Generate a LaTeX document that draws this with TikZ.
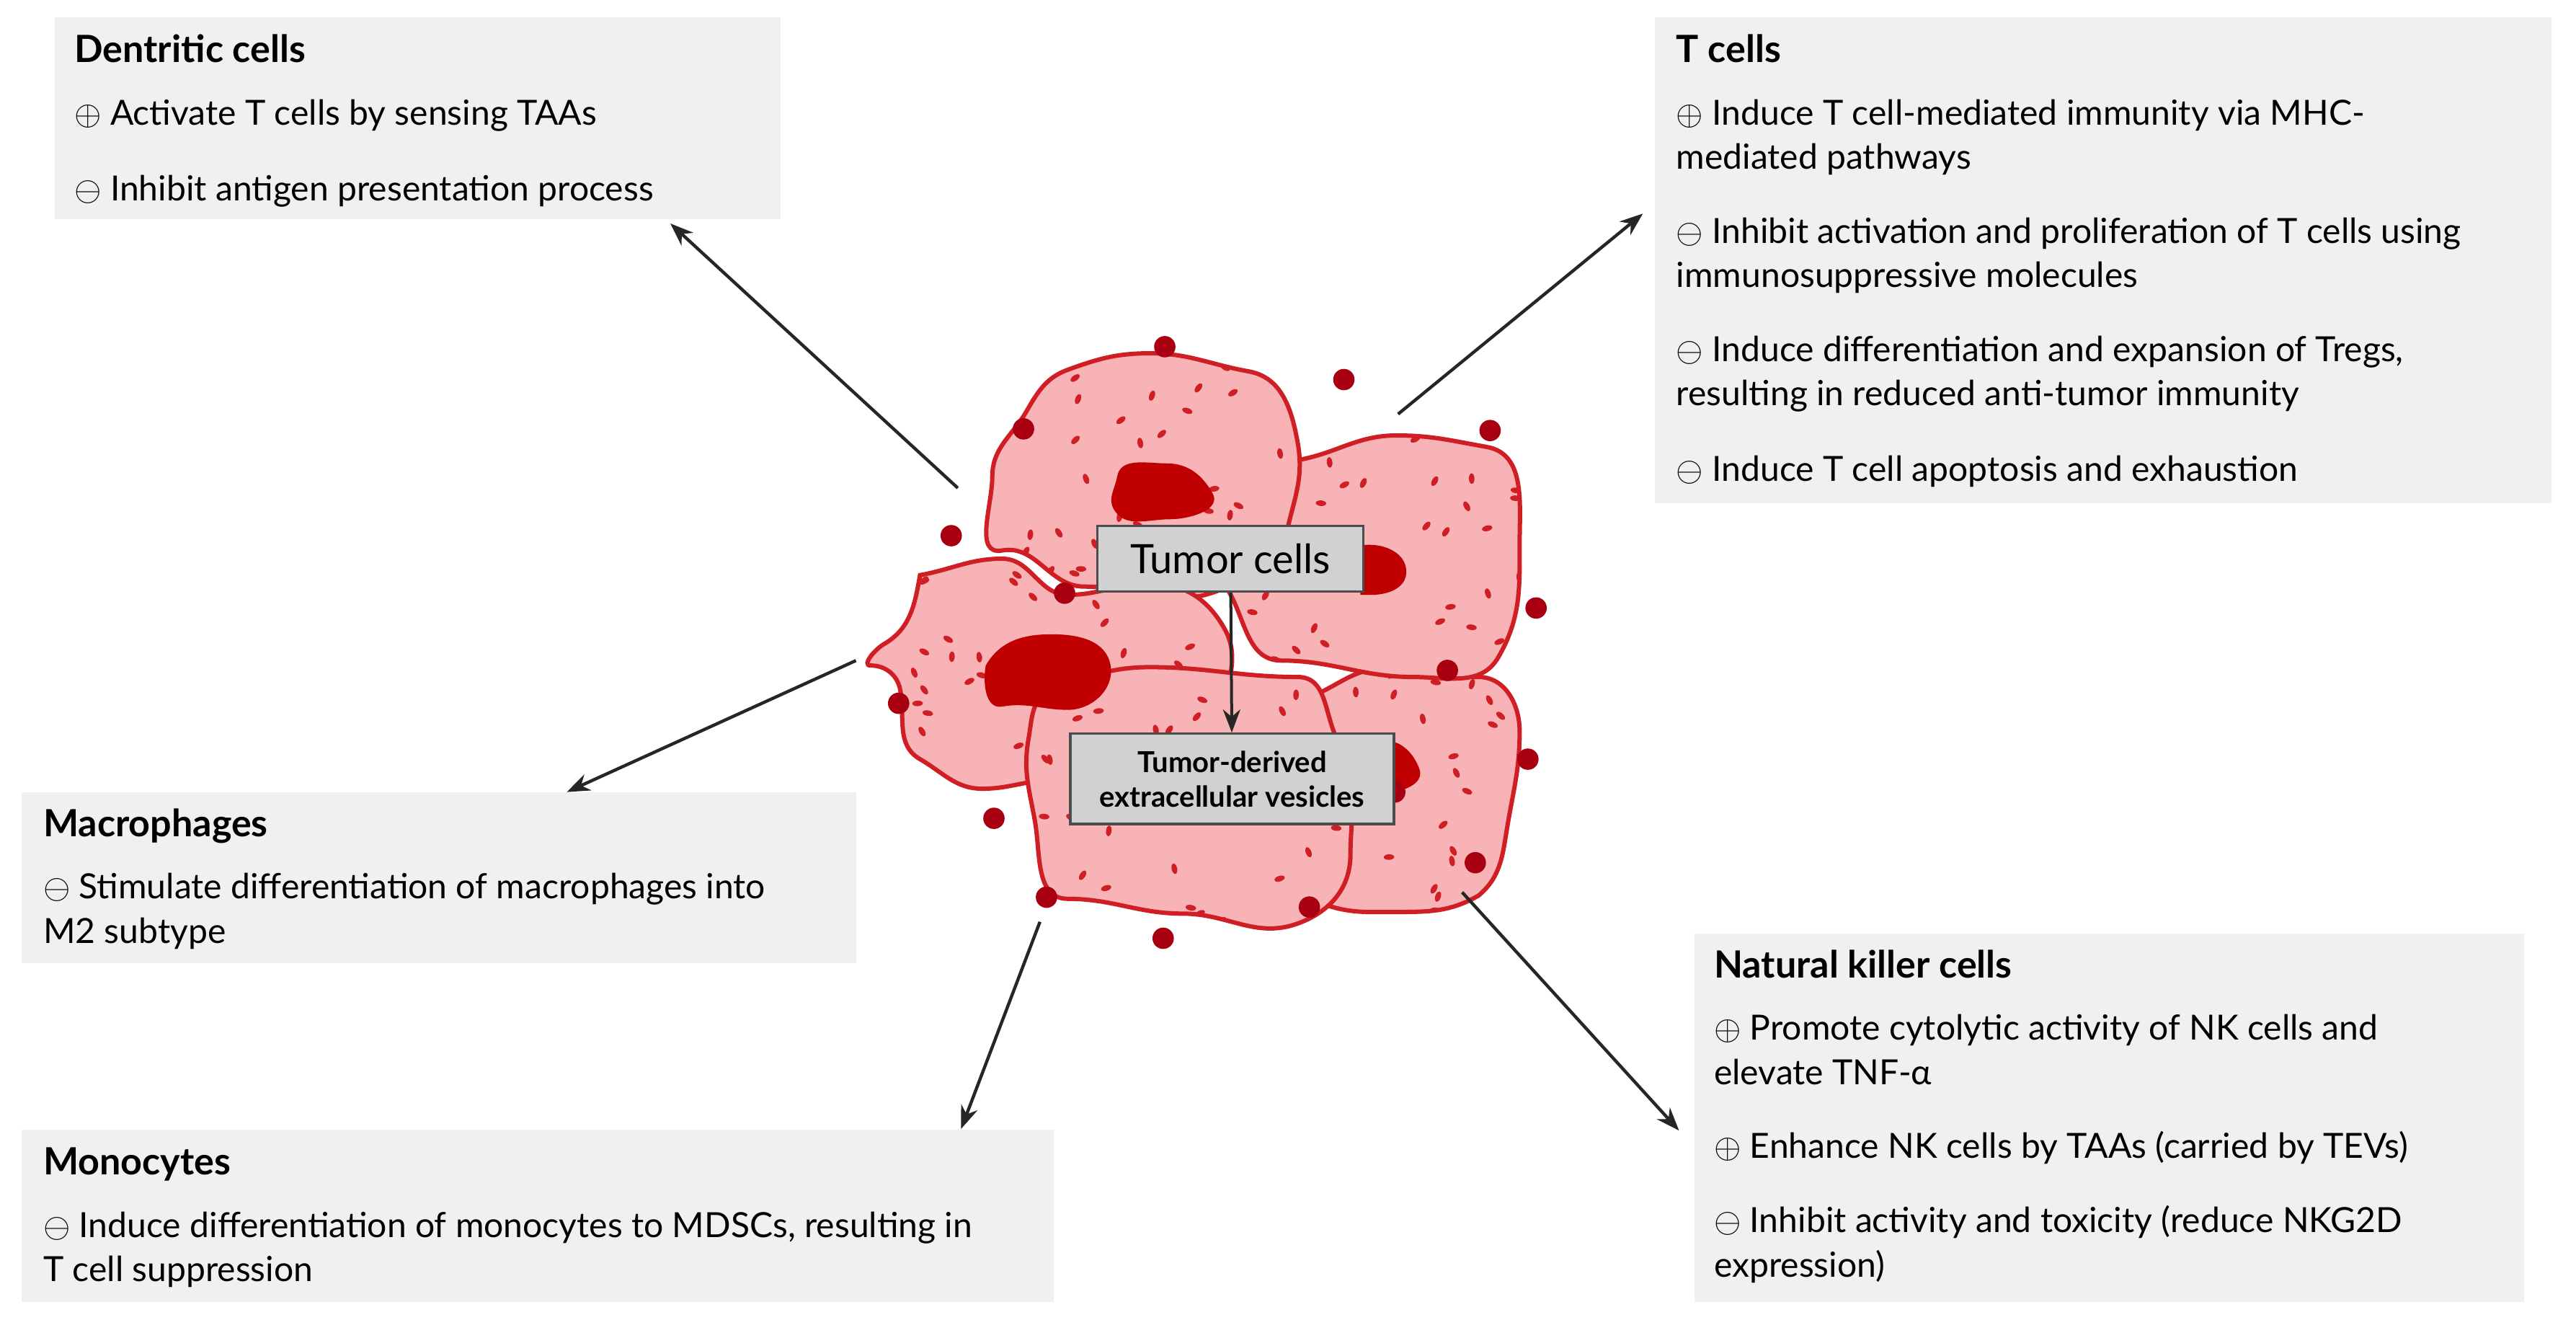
\documentclass[tikz,border=0pt]{standalone}
\usepackage{fontspec}
\setmainfont{Lato}
\usetikzlibrary{arrows.meta}
\definecolor{boxg}{HTML}{F0F0F0}
\definecolor{cellf}{HTML}{F7B3B5}
\definecolor{celld}{HTML}{D01E25}
\definecolor{nuc}{HTML}{C00000}
\definecolor{dotc}{HTML}{A80010}
\begin{document}
\begin{tikzpicture}[x=0.02cm,y=-0.02cm,
  box/.style={fill=boxg,draw=none,anchor=north west,inner sep=0},
  ttl/.style={anchor=base west,font=\fontsize{13}{15}\selectfont\bfseries,inner sep=0},
  txt/.style={anchor=base west,align=left,font=\fontsize{12}{15.35}\selectfont,inner sep=0},
  arr/.style={-{Stealth[length=8pt,width=6pt]},line width=1.1pt,draw=black!85},
  cell/.style={fill=cellf,draw=celld,line width=1.5pt},
  lab/.style={fill=black!18,draw=black!70,line width=0.8pt,inner sep=0,align=center}]
\useasboundingbox (0,0) rectangle (1568,803);
% boxes
\node[box,minimum width=8.84cm,minimum height=2.46cm] (dc) at (33,10) {};
\node[box,minimum width=10.92cm,minimum height=5.92cm] (tc) at (1007,10) {};
\node[box,minimum width=10.16cm,minimum height=2.08cm] (mp) at (13,482) {};
\node[box,minimum width=12.56cm,minimum height=2.1cm] (mo) at (13,687) {};
\node[box,minimum width=10.1cm,minimum height=4.48cm] (nk) at (1031,568) {};
% texts (anchored at baseline of last line)
\node[ttl] at (45,38) {Dentritic cells};
\node[txt] at (45,76) {$\oplus$ Activate T cells by sensing TAAs};
\node[txt] at (45,122) {$\ominus$ Inhibit antigen presentation process};
\node[ttl] at (1020,38) {T cells};
\node[txt] at (1020,103) {$\oplus$ Induce T cell-mediated immunity via MHC-\\mediated pathways};
\node[txt] at (1020,175) {$\ominus$ Inhibit activation and proliferation of T cells using\\immunosuppressive molecules};
\node[txt] at (1020,247) {$\ominus$ Induce differentiation and expansion of Tregs,\\resulting in reduced anti-tumor immunity};
\node[txt] at (1020,293) {$\ominus$ Induce T cell apoptosis and exhaustion};
\node[ttl] at (26,509) {Macrophages};
\node[txt] at (26,574) {$\ominus$ Stimulate differentiation of macrophages into\\M2 subtype};
\node[ttl] at (26,715) {Monocytes};
\node[txt] at (26,780) {$\ominus$ Induce differentiation of monocytes to MDSCs, resulting in\\T cell suppression};
\node[ttl] at (1043,595) {Natural killer cells};
\node[txt] at (1043,660) {$\oplus$ Promote cytolytic activity of NK cells and\\elevate TNF-α};
\node[txt] at (1043,705) {$\oplus$ Enhance NK cells by TAAs (carried by TEVs)};
\node[txt] at (1043,777) {$\ominus$ Inhibit activity and toxicity (reduce NKG2D\\expression)};
% cells
\def\cellE{(780,420) to[out=-40,in=180] (840,407) to[out=0,in=180] (900,412) to[out=0,in=90] (925,445) to[out=-90,in=80] (918,500) to[out=-100,in=40] (900,545) to[out=-150,in=0] (850,555) to[out=180,in=-20] (805,550) to[out=160,in=-90] (795,480) to[out=90,in=-130] cycle}
\def\cellB{(790,280) to[out=10,in=180] (850,265) to[out=0,in=170] (905,272) to[out=-10,in=90] (925,330) to[out=-90,in=60] (912,400) to[out=-120,in=0] (860,412) to[out=180,in=0] (780,402) to[out=180,in=-60] (748,360) to[out=120,in=-90] (760,300) to[out=90,in=-170] cycle}
\def\cellA{(625,250) to[out=60,in=200] (650,225) to[out=20,in=180] (700,215) to[out=0,in=170] (760,226) to[out=-10,in=100] (790,270) to[out=-80,in=80] (782,330) to[out=-100,in=20] (740,360) to[out=200,in=0] (660,357) to[out=180,in=10] (610,335) to[out=190,in=-90] (604,290) to[out=90,in=-120] cycle}
\def\cellC{(560,350) to[out=10,in=180] (610,340) to[out=0,in=180] (650,362) to[out=0,in=180] (700,355) to[out=0,in=120] (745,382) to[out=-60,in=80] (745,430) to[out=-100,in=20] (700,462) to[out=200,in=0] (640,475) to[out=180,in=0] (598,480) to[out=180,in=-30] (560,462) to[out=150,in=-80] (548,420) to[out=100,in=0] (530,405) to[out=180,in=-150] (538,392) to[out=30,in=-100] cycle}
\def\cellD{(640,420) to[out=20,in=180] (700,406) to[out=0,in=180] (790,412) to[out=0,in=120] (815,452) to[out=-60,in=90] (822,520) to[out=-90,in=20] (790,562) to[out=200,in=0] (720,556) to[out=180,in=0] (650,547) to[out=180,in=-80] (630,500) to[out=100,in=-100] (626,450) to[out=80,in=-160] cycle}
\pgfmathsetseed{7}
\foreach \c/\xa/\xb/\ya/\yb in {\cellE/780/925/405/560,\cellB/748/925/265/412,\cellA/604/790/215/360,\cellC/530/745/340/480,\cellD/626/822/406/562}{
  \fill[cellf] \c;
  \begin{scope}
    \clip \c;
    \foreach \i in {1,...,40}{
      \pgfmathsetmacro\px{\xa+rnd*(\xb-\xa)}
      \pgfmathsetmacro\py{\ya+rnd*(\yb-\ya)}
      \pgfmathsetmacro\rt{rnd*180}
      \fill[celld,rotate around={\rt:(\px,\py)}] (\px,\py) ellipse[x radius=1.7,y radius=3.2];
    }
  \end{scope}
  \draw[celld,line width=1.5pt] \c;
}
% nuclei
\fill[nuc] (680,290) to[out=80,in=180] (710,282) to[out=0,in=120] (738,300) to[out=-60,in=0] (712,316) to[out=180,in=-60] (678,310) to[out=120,in=-100] cycle;
\fill[nuc] (600,405) to[out=60,in=180] (640,386) to[out=0,in=100] (676,405) to[out=-80,in=0] (650,432) to[out=180,in=10] (610,430) to[out=190,in=-100] cycle;
\fill[nuc] (828,332) to[out=10,in=90] (856,348) to[out=-90,in=0] (835,362) -- (828,362) -- cycle;
\fill[nuc] (840,452) to[out=20,in=110] (864,468) to[out=-70,in=0] (845,482) -- (840,482) -- cycle;
% dots
\foreach \p in {(709,211),(818,231),(907,262),(623,261),(579,326),(935,370),(881,408),(547,428),(930,462),(605,498),(898,525),(637,546),(797,552),(708,571),(648,361),(849,482)}
  \fill[dotc] \p circle[radius=6.5];
% labels
\node[lab,minimum width=3.24cm,minimum height=0.8cm,font=\fontsize{14}{16}\selectfont] (tum) at (749,340) {Tumor cells};
\node[lab,minimum width=3.94cm,minimum height=1.1cm,font=\fontsize{10}{12}\selectfont\bfseries] (tev) at (750,474) {Tumor-derived\\extracellular vesicles};
\draw[arr,line width=1pt] (tum) -- (tev);
% arrows
\coordinate (a1) at (583,297); \coordinate (b1) at (408,136);
\coordinate (a2) at (851,252); \coordinate (b2) at (1000,130);
\coordinate (a3) at (521,402); \coordinate (b3) at (345,482);
\coordinate (a4) at (633,561); \coordinate (b4) at (585,687);
\coordinate (a5) at (890,543); \coordinate (b5) at (1022,688);
\foreach \i in {1,...,5} \draw[arr] (a\i) -- (b\i);
\end{tikzpicture}
\end{document}
